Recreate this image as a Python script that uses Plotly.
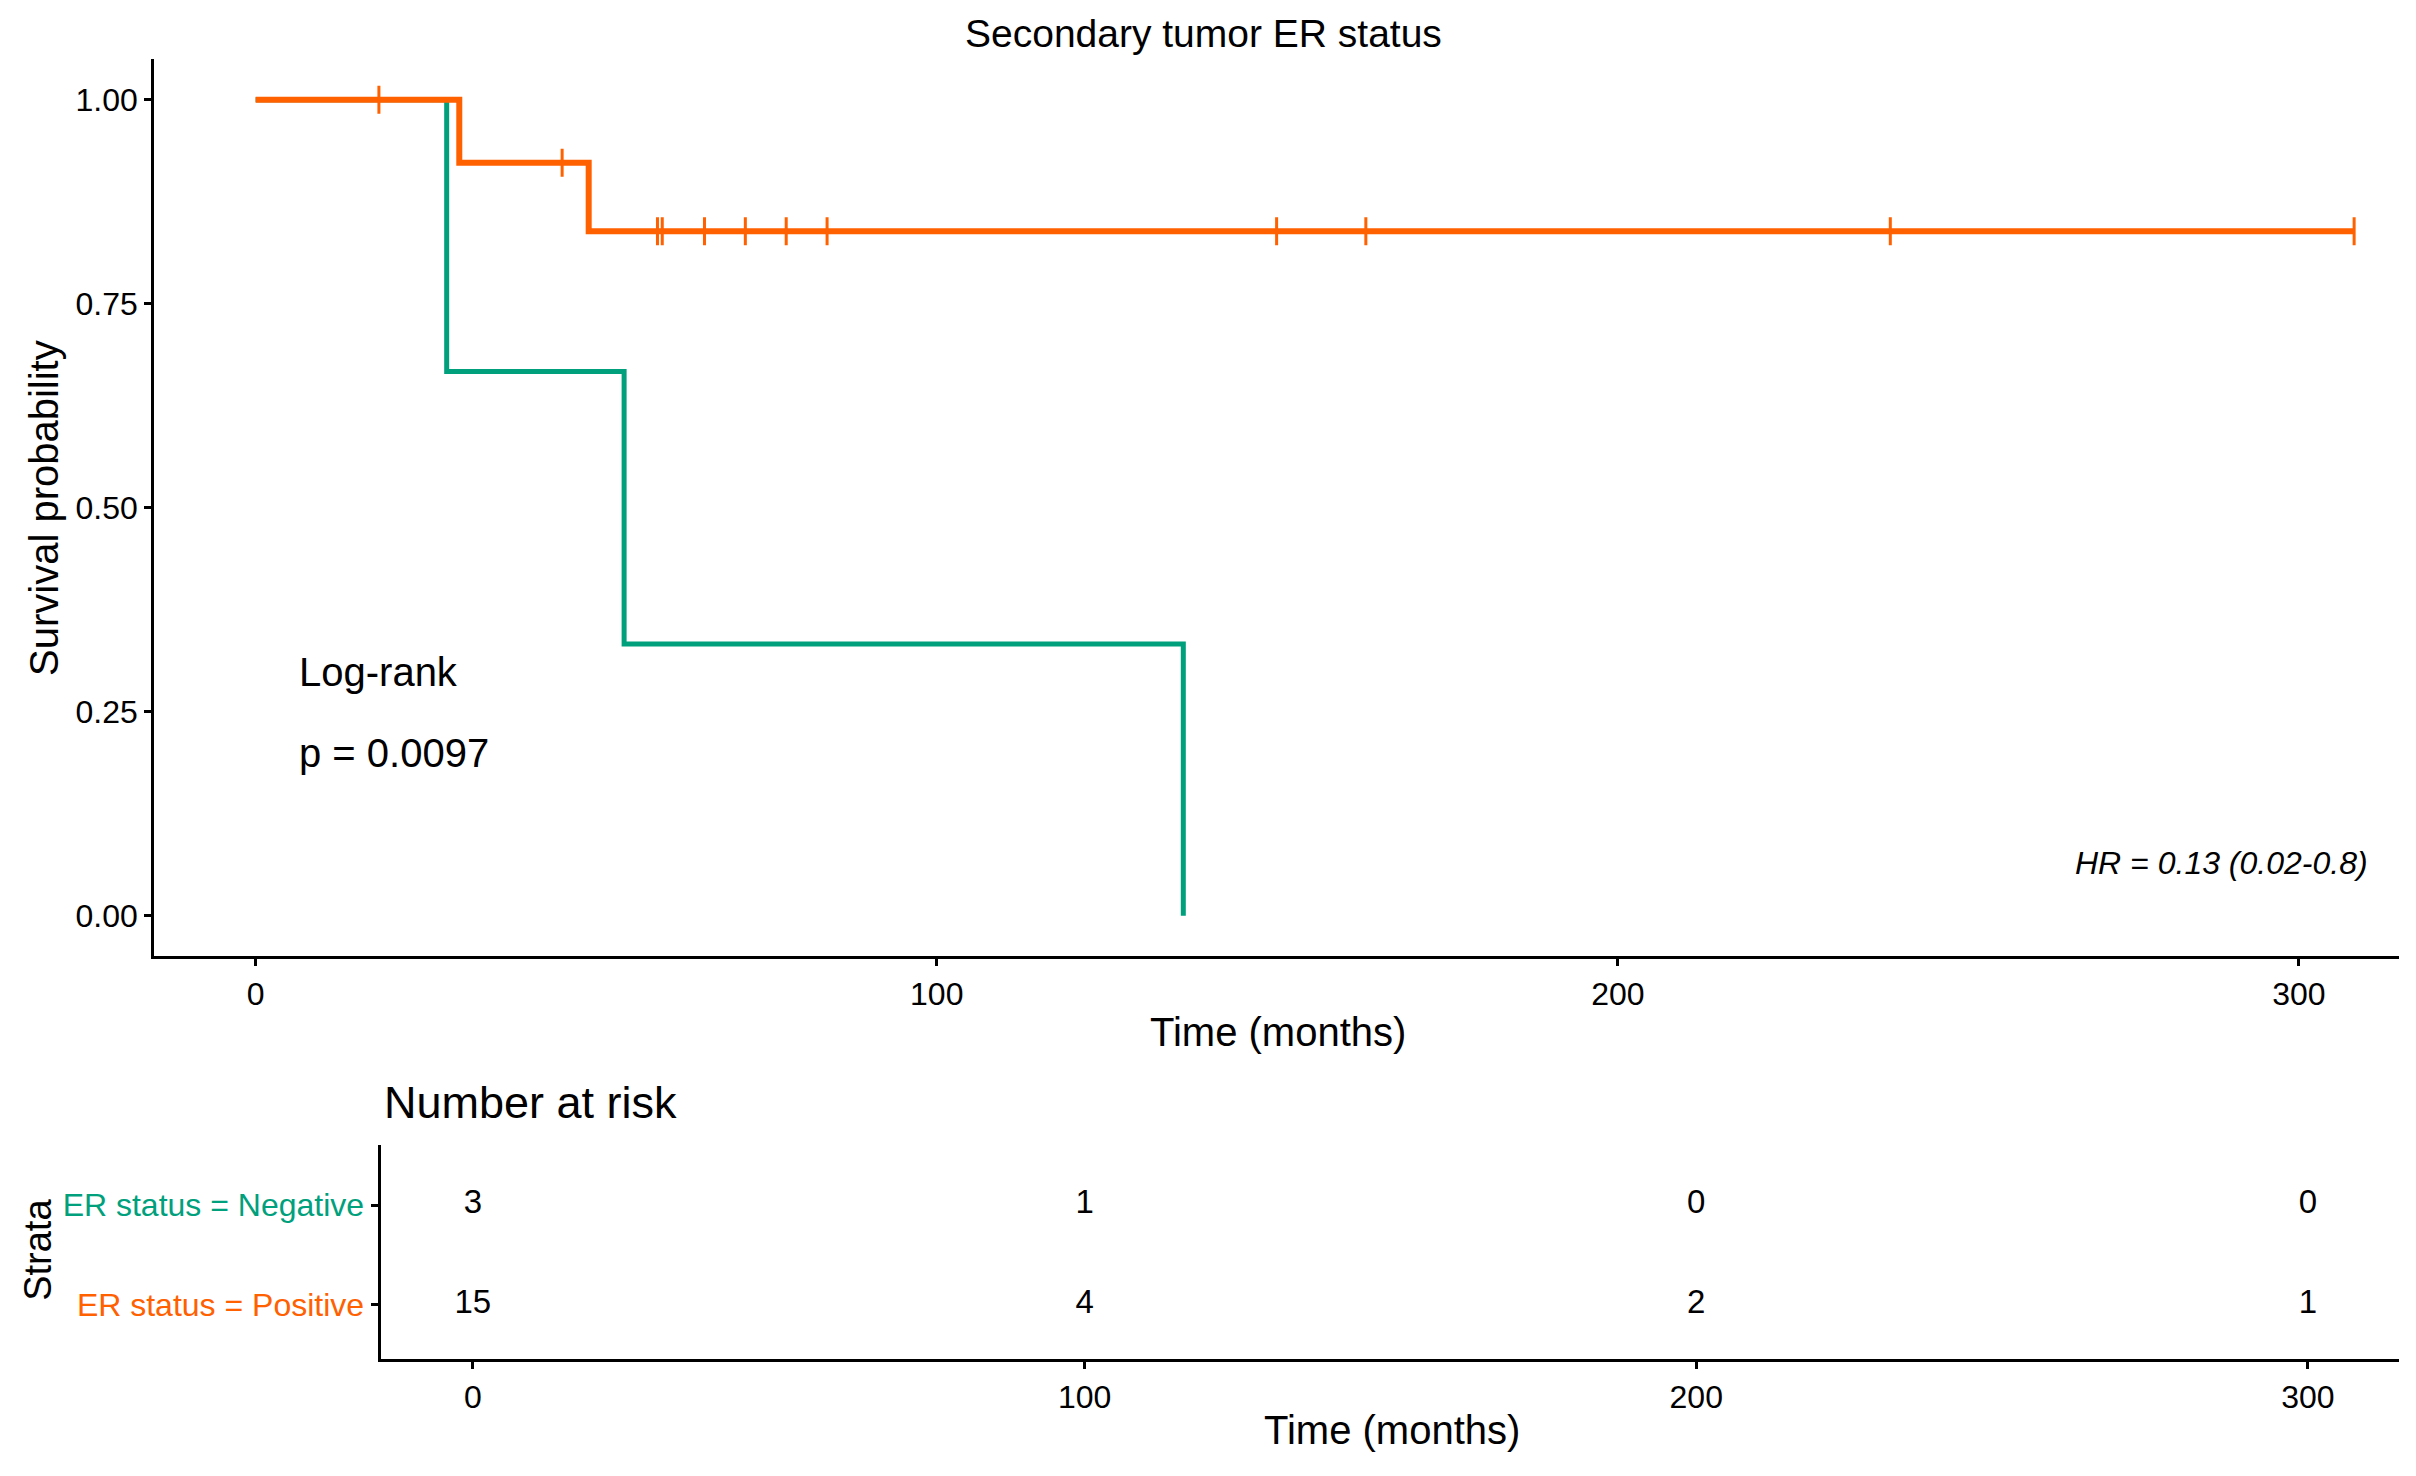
import numpy as np
import plotly.graph_objects as go

# survival curves (months, probability)
neg_time = [0, 28.05, 54.1, 136.2]
neg_surv = [1.0, 0.667, 0.333, 0.0]
pos_time = [0, 29.9, 48.9, 308.1]
pos_surv = [1.0, 0.923, 0.839, 0.839]
pos_censor = [18.1, 45.0, 59.0, 59.7, 65.9, 71.9, 77.9, 83.9, 149.9, 163.0, 240.0, 308.1]

# number at risk table
risk_times = [0, 100, 200, 300]
risk_neg = [3, 1, 0, 0]
risk_pos = [15, 4, 2, 1]
strata = ["ER status = Negative", "ER status = Positive"]

green = "#00A07C"
orange = "#FF6000"
font = "Liberation Sans, Arial, sans-serif"


def surv_at(t, times, surv):
    i = np.searchsorted(times, t, side="right") - 1
    return [surv[k] for k in i]


fig = go.Figure()

fig.add_trace(go.Scatter(x=neg_time, y=neg_surv, mode="lines", line_shape="hv",
                         line=dict(color=green, width=5), showlegend=False))
fig.add_trace(go.Scatter(x=pos_time, y=pos_surv, mode="lines", line_shape="hv",
                         line=dict(color=orange, width=6), showlegend=False))
fig.add_trace(go.Scatter(x=pos_censor, y=surv_at(pos_censor, pos_time, pos_surv),
                         mode="markers", showlegend=False,
                         marker=dict(symbol="line-ns-open", size=20, color=orange,
                                     line=dict(color=orange, width=3))))

# risk table as text
fig.add_trace(go.Scatter(x=risk_times, y=[1] * len(risk_times), mode="text",
                         text=[str(v) for v in risk_neg], xaxis="x2", yaxis="y2",
                         textfont=dict(size=33, color="black", family=font), showlegend=False))
fig.add_trace(go.Scatter(x=risk_times, y=[0] * len(risk_times), mode="text",
                         text=[str(v) for v in risk_pos], xaxis="x2", yaxis="y2",
                         textfont=dict(size=33, color="black", family=font), showlegend=False))

axis_style = dict(showline=True, linecolor="black", linewidth=3, ticks="outside",
                  ticklen=7, tickwidth=2.5, tickcolor="black", showgrid=False,
                  zeroline=False, automargin=False,
                  tickfont=dict(size=32, color="black", family=font))

fig.update_layout(
    width=2416, height=1476,
    margin=dict(l=0, r=0, t=0, b=0),
    paper_bgcolor="white", plot_bgcolor="white",
    font=dict(family=font, color="black"),
    xaxis=dict(domain=[0.0638, 0.993], range=[-14.9, 314.7],
               tickvals=[0, 100, 200, 300], anchor="y", **axis_style),
    yaxis=dict(domain=[0.352, 0.960], range=[-0.05, 1.05],
               tickvals=[0, 0.25, 0.5, 0.75, 1.0], tickformat=".2f", anchor="x", **axis_style),
    xaxis2=dict(domain=[0.1575, 0.993], range=[-15.1, 314.9],
                tickvals=[0, 100, 200, 300], anchor="y2", **axis_style),
    yaxis2=dict(domain=[0.079, 0.224], range=[-0.55, 1.6], tickvals=[1, 0],
                ticktext=[f"<span style='color:{green}'>{strata[0]}</span>",
                          f"<span style='color:{orange}'>{strata[1]}</span>"],
                anchor="x2", **axis_style),
)

ann = [
    dict(text="Secondary tumor ER status", x=0.498, y=0.977, size=39),
    dict(text="Survival probability", x=0.0179, y=0.656, size=40, angle=-90),
    dict(text="Time (months)", x=0.529, y=0.301, size=40),
    dict(text="Strata", x=0.016, y=0.153, size=38, angle=-90),
    dict(text="Time (months)", x=0.576, y=0.031, size=40),
]
for a in ann:
    fig.add_annotation(text=a["text"], x=a["x"], y=a["y"], xref="paper", yref="paper",
                       xanchor="center", yanchor="middle", showarrow=False,
                       textangle=a.get("angle", 0),
                       font=dict(size=a["size"], color="black", family=font))

fig.add_annotation(text="Number at risk", x=0.158, y=0.253, xref="paper", yref="paper",
                   xanchor="left", yanchor="middle", showarrow=False,
                   font=dict(size=45, color="black", family=font))
fig.add_annotation(text="Log-rank", x=6.1, y=0.299, xref="x", yref="y",
                   xanchor="left", yanchor="middle", showarrow=False,
                   font=dict(size=40, color="black", family=font))
fig.add_annotation(text="p = 0.0097", x=6.1, y=0.199, xref="x", yref="y",
                   xanchor="left", yanchor="middle", showarrow=False,
                   font=dict(size=40, color="black", family=font))
fig.add_annotation(text="<i>HR = 0.13 (0.02-0.8)</i>", x=310.4, y=0.064, xref="x", yref="y",
                   xanchor="right", yanchor="middle", showarrow=False,
                   font=dict(size=32, color="black", family=font))

# drop the default page margin so the figure sits at the window corner
fig.write_html("out.html", config={"displayModeBar": False},
               post_script="document.body.style.margin='0px';")
